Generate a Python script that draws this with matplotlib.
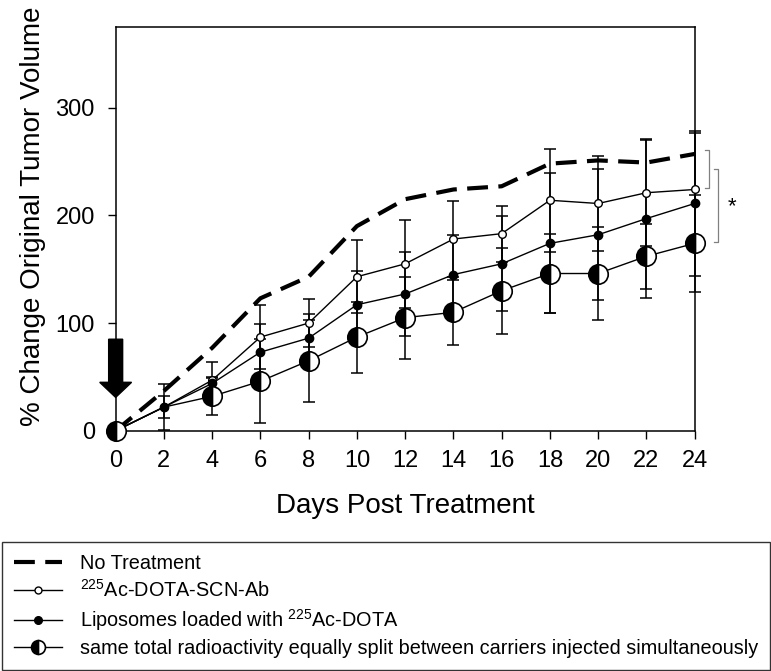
import numpy as np
import matplotlib
matplotlib.use('Agg')
import matplotlib.pyplot as plt
from matplotlib.lines import Line2D
from matplotlib.patches import FancyArrow

plt.rcParams['font.family'] = ['Liberation Sans', 'DejaVu Sans']
plt.rcParams['mathtext.fontset'] = 'custom'
plt.rcParams['mathtext.rm'] = 'Liberation Sans'

# Данные
days = [0, 2, 4, 6, 8, 10, 12, 14, 16, 18, 20, 22, 24]
no_treat = [0, 37, 77, 123, 143, 190, 215, 224, 227, 248, 251, 249, 257]
ab = [0, 22, 47, 87, 100, 143, 155, 178, 183, 214, 211, 221, 224]
ab_err = [0, 21, 17, 30, 22, 34, 41, 35, 26, 48, 44, 49, 52]
lipo = [0, 22, 44, 73, 86, 117, 127, 145, 155, 174, 182, 197, 211]
lipo_err = [0, 10, 6, 26, 22, 31, 39, 37, 44, 65, 61, 74, 67]
split = [0, 22, 32, 46, 65, 87, 105, 110, 130, 146, 146, 162, 174]
split_err = [0, np.nan, 17, 39, 38, 33, 38, 30, 40, 37, 43, 30, 45]

labels = ['No Treatment',
          '$^{225}$Ac-DOTA-SCN-Ab',
          'Liposomes loaded with $^{225}$Ac-DOTA',
          'same total radioactivity equally split between carriers injected simultaneously']

fig = plt.figure(figsize=(7.71, 6.71), dpi=100)
ax = fig.add_axes([0.150, 0.358, 0.751, 0.602])

# планки погрешностей
for y, e in [(ab, ab_err), (lipo, lipo_err), (split, split_err)]:
    eb = ax.errorbar(days, y, yerr=e, fmt='none', ecolor='black', elinewidth=1.1,
                     capsize=4.5, capthick=1.1, zorder=2)
    for part in eb.lines[1] + eb.lines[2]:
        part.set_clip_on(False)

ax.plot(days, no_treat, color='black', lw=3, dashes=(5, 2.5), zorder=3, clip_on=False)
ax.plot(days, ab, color='black', lw=1, marker='o', ms=5.5, mfc='white', mec='black',
        mew=1, zorder=3, clip_on=False)
ax.plot(days, lipo, color='black', lw=1, marker='o', ms=6, mfc='black', mec='black',
        zorder=3, clip_on=False)
ax.plot(days, split, color='black', lw=1, marker='o', ms=14, fillstyle='left',
        mfc='black', mfcalt='white', mec='black', mew=1.2, zorder=4, clip_on=False,
        markevery=[0] + list(range(2, len(days))))

# стрелка начала лечения
ax.add_patch(FancyArrow(0, 85, 0, -54, width=0.58, head_width=1.32, head_length=14,
                        length_includes_head=True, color='black', clip_on=False, zorder=5))

# скобки значимости
ax.plot([24.42, 24.59, 24.59, 24.42], [261, 261, 225, 225], color='gray', lw=0.9, clip_on=False)
ax.plot([24.8, 24.97, 24.97, 24.8], [243, 243, 175, 175], color='gray', lw=0.9, clip_on=False)
ax.text(25.55, 208, '*', fontsize=16, ha='center', va='center')

ax.set_xlim(0, 24)
ax.set_ylim(0, 375)
ax.set_xticks(days)
ax.set_yticks([0, 100, 200, 300])
ax.tick_params(direction='out', length=6, width=1, labelsize=17, top=False, right=False)
ax.tick_params(axis='x', pad=8)
ax.tick_params(axis='y', pad=9)
for s in ax.spines.values():
    s.set_linewidth(1.1)

ax.set_xlabel('Days Post Treatment', fontsize=20)
ax.set_ylabel('% Change Original Tumor Volume', fontsize=20)
ax.xaxis.set_label_coords(0.5, -0.155)
ax.yaxis.set_label_coords(-0.12, 0.53)

handles = [
    Line2D([], [], color='black', lw=3, dashes=(5, 2.5)),
    Line2D([], [], color='black', lw=1, marker='o', ms=5, mfc='white', mec='black'),
    Line2D([], [], color='black', lw=1, marker='o', ms=5.5, mfc='black', mec='black'),
    Line2D([], [], color='black', lw=1, marker='o', ms=10, fillstyle='left',
           mfc='black', mfcalt='white', mec='black', mew=1.2),
]
leg = fig.legend(handles, labels, loc='upper left', bbox_to_anchor=(0.003, 0.192),
                 bbox_transform=fig.transFigure, fontsize=14.3, handlelength=2.4,
                 handletextpad=0.9, labelspacing=0.3, borderpad=0.6, borderaxespad=0,
                 fancybox=False, framealpha=1, edgecolor='#333333')
leg.get_frame().set_linewidth(1)

fig.savefig('out.png', dpi=100)
